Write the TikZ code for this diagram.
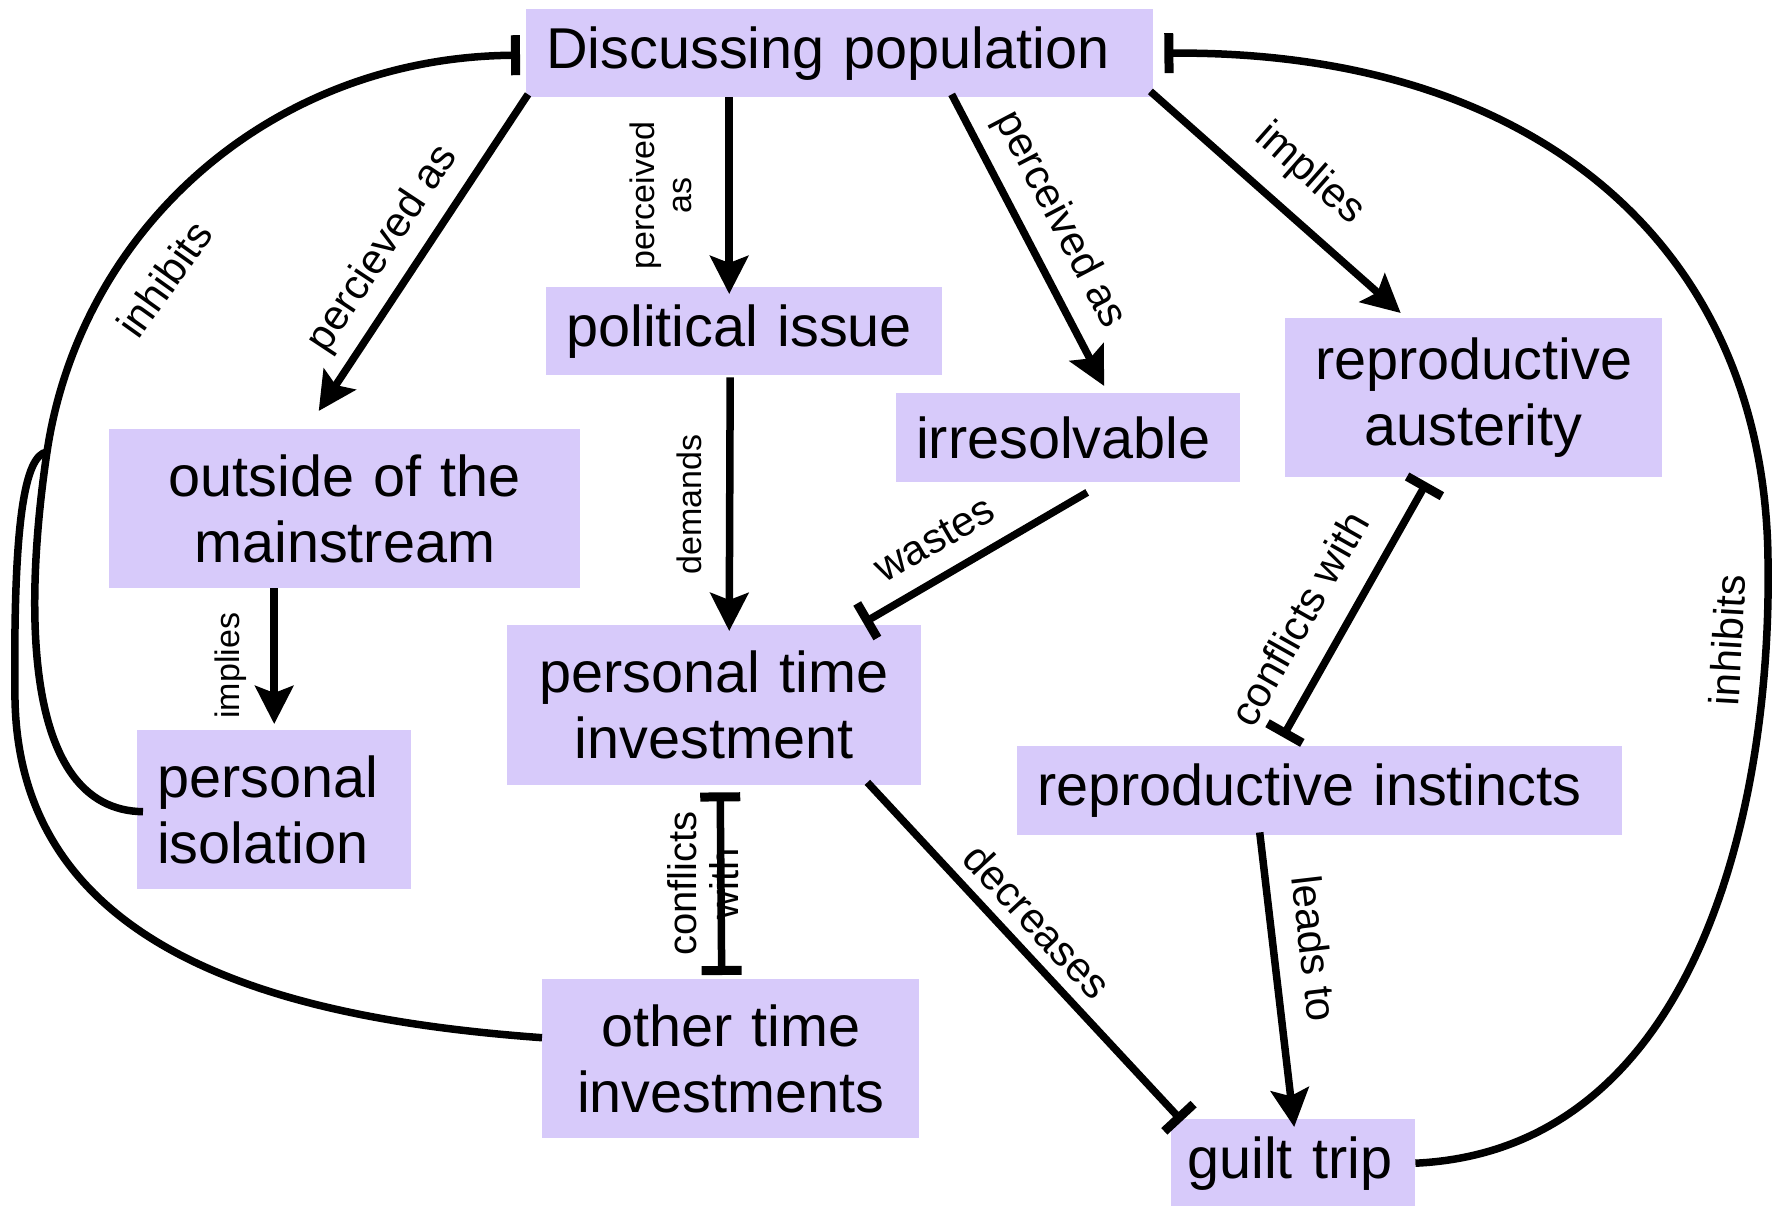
\documentclass[tikz,border=0pt]{standalone}
\usepackage{fontspec}
\setmainfont{Liberation Sans}
\usetikzlibrary{arrows.meta}

\definecolor{lavender}{RGB}{215,202,250}

\begin{document}
\begin{tikzpicture}[
    x=1pt, y=-1pt,
    concept/.style={fill=lavender, anchor=north west, inner xsep=20pt, inner ysep=0pt, font=\fontsize{57.6}{66}\selectfont},
    arr/.style={-{Stealth[length=38pt, width=38pt, inset=7pt]}, line width=7.5pt},
    inh/.style={-{Bar[width=40pt, line width=9pt]}, line width=7.5pt},
    conf/.style={{Bar[width=40pt, line width=9pt]}-{Bar[width=40pt, line width=9pt]}, line width=7.5pt},
    lbl/.style={font=\fontsize{42}{46}\selectfont, sloped},
    vlbl/.style={font=\fontsize{34}{37}\selectfont, align=center, rotate=90},
]
\useasboundingbox (0,0) rectangle (1781,1206);

% Concepts
\node[concept, text width=587pt, minimum height=88pt, align=left] (disc) at (526,9) {Discussing population};
\node[concept, text width=356pt, minimum height=88pt, align=left] (pol) at (546,287) {political issue};
\node[concept, text width=304pt, minimum height=89pt, align=left] (irr) at (896,393) {irresolvable};
\node[concept, text width=337pt, minimum height=159pt, align=center] (aust) at (1285,318) {reproductive\\austerity};
\node[concept, text width=431pt, minimum height=159pt, align=center] (out) at (109,429) {outside of the\\mainstream};
\node[concept, text width=234pt, minimum height=159pt, align=left] (isol) at (137,730) {personal\\isolation};
\node[concept, text width=374pt, minimum height=160pt, align=center] (pti) at (507,625) {personal time\\investment};
\node[concept, text width=565pt, minimum height=89pt, align=left] (inst) at (1017,746) {reproductive instincts};
\node[concept, text width=337pt, minimum height=159pt, align=center] (oti) at (542,979) {other time\\investments};
\node[concept, inner xsep=16pt, text width=212pt, minimum height=88pt, align=left] (guilt) at (1171,1119) {guilt trip};

% Links out of the top concept
\draw[arr] ([shift={(2,-3)}]disc.south west) -- node[lbl, above, pos=0.55, inner sep=12pt] {percieved as} ([shift={(-26,-18)}]out.north);
\coordinate (pol-in) at ([shift={(-15,7)}]pol.north);
\draw[arr] (pol-in |- disc.south) -- node[xshift=-68pt, vlbl] {perceived\\as} (pol-in);
\draw[arr] ([shift={(112,-3)}]disc.south) -- node[lbl, above, pos=0.49, inner sep=14pt] {perceived as} ([shift={(36,-7)}]irr.north);
\draw[arr] ([shift={(-3,-6)}]disc.south east) -- node[lbl, above, pos=0.52, inner sep=20pt] {implies} ([shift={(-73,-5)}]aust.north);

% Middle links
\draw[arr] (isol.north |- out.south) -- node[xshift=-43pt, pos=0.57, vlbl] {implies} ([shift={(0,-6)}]isol.north);
\draw[arr] ([shift={(-14,2)}]pol.south) -- node[xshift=-40pt, vlbl] {demands} ([shift={(15,6)}]pti.north);
\draw[inh] ([shift={(19,10)}]irr.south) -- node[lbl, above, pos=0.6, inner sep=19pt] {wastes} ([shift={(-58,-2)}]pti.north east);
\draw[conf] ([shift={(-47,5)}]aust.south) -- node[lbl, above, pos=0.62, inner sep=25pt] {conflicts with} ([shift={(-37,-9)}]inst.north);
\draw[conf] ([shift={(6,7)}]pti.south) -- node[xshift=-18pt, rotate=90, font=\fontsize{40}{42}\selectfont, align=center] {conflicts\\with} ([shift={(-9,-4)}]oti.north);

% Links into guilt trip
\draw[inh] ([shift={(-54,-3)}]pti.south east) -- node[lbl, above, pos=0.47, inner sep=11pt] {decreases} ([shift={(11,2)}]guilt.north west);
\draw[arr] ([shift={(-60,-3)}]inst.south) -- node[lbl, above, pos=0.41, inner sep=22pt] {leads to} ([shift={(1,8)}]guilt.north);

% Long inhibits loops
\coordinate (join) at (47,452);
\draw[inh] ([shift={(6,2)}]isol.west) .. controls (20,810) and (25,600) .. (join)
    .. controls (80,230) and (270,57) .. ([shift={(-6,2)}]disc.west) node[lbl, below, pos=0.33, inner sep=26pt] {inhibits};
\draw[line width=7.5pt] ([shift={(0,-21)}]oti.west) .. controls (300,1020) and (20,960) .. (15,700)
    .. controls (13,520) and (25,455) .. (join);
\draw[inh] (guilt.east) .. controls (1700,1150) and (1772,800) .. (1768,560) node[lbl, above, pos=0.89, inner sep=20pt] {inhibits}
    .. controls (1765,250) and (1540,50) .. ([shift={(11,0)}]disc.east);

\end{tikzpicture}
\end{document}
